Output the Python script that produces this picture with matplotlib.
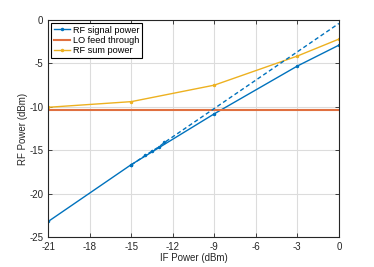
import matplotlib
matplotlib.use("Agg")
import matplotlib.pyplot as plt

# values
if_power = [-21, -15, -9, -3, 0]
rf_signal = [-23.2, -16.65, -10.8, -5.3, -2.9]
rf_sum = [-10.05, -9.4, -7.5, -4.15, -2.2]
lo_x = [-21, 0]
lo_feed = [-10.35, -10.35]
fit_x = [-15, -14, -13.5, -13, -12.6, 0]
fit_y = [-16.7, -15.6, -15.1, -14.6, -14.1, -0.4]

x_ticks = [-21, -18, -15, -12, -9, -6, -3, 0]
y_ticks = [-25, -20, -15, -10, -5, 0]

blue = "#0072BD"
orange = "#E07040"
yellow = "#EDB120"

plt.rcParams["font.family"] = ["Liberation Sans", "DejaVu Sans"]
plt.rcParams["font.size"] = 7
plt.rcParams["axes.unicode_minus"] = False

fig = plt.figure(figsize=(3.74, 2.67), dpi=100)
ax = fig.add_axes([0.129, 0.112, 0.777, 0.813])

ax.plot(if_power, rf_signal, color=blue, lw=1.0, marker=".", ms=3,
        label="RF signal power")
ax.plot(lo_x, lo_feed, color=orange, lw=1.5, label="LO feed through")
ax.plot(if_power, rf_sum, color=yellow, lw=1.0, marker=".", ms=3,
        label="RF sum power")
ax.plot(fit_x, fit_y, color=blue, lw=1.0, ls=(0, (3, 2)), marker=".", ms=3,
        markevery=[0, 1, 2, 3, 4])

ax.set_xlim(-21, 0)
ax.set_ylim(-25, 0)
ax.set_xticks(x_ticks)
ax.set_yticks(y_ticks)
ax.grid(True, color="#dcdcdc", lw=0.8)
ax.set_axisbelow(True)
ax.tick_params(direction="in", top=True, right=True, length=3, width=0.6,
               colors="#262626", labelsize=7)
for s in ax.spines.values():
    s.set_linewidth(0.8)
    s.set_color("#262626")

ax.set_xlabel("IF Power (dBm)", color="#262626", labelpad=1)
ax.set_ylabel("RF Power (dBm)", color="#262626", labelpad=1)

leg = ax.legend(loc="upper left", fancybox=False, framealpha=1,
                edgecolor="black", borderpad=0.3, labelspacing=0.15,
                handlelength=1.8, handletextpad=0.3, borderaxespad=0.3,
                fontsize=6.6)
leg.get_frame().set_linewidth(0.8)

fig.savefig("out.png", dpi=100)
